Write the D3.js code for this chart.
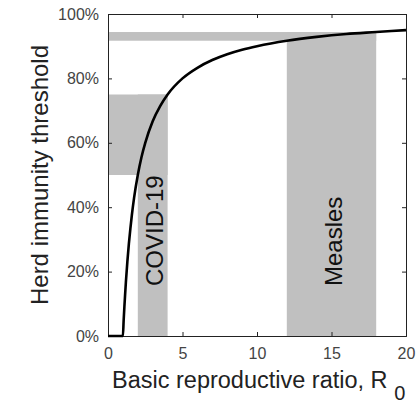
<!DOCTYPE html>
<html><head><meta charset="utf-8">
<script src="https://cdn.jsdelivr.net/npm/d3@7"></script>
<style>
html,body{margin:0;padding:0;background:#fff;}
svg{display:block;font-family:"Liberation Sans",Arial,sans-serif;}
</style></head>
<body><svg id="c" width="417" height="403"></svg>
<script>
// Curve: herd immunity threshold vs R0
const r0Values = [0, 1, 1.05, 1.1, 1.15, 1.2, 1.3, 1.4, 1.5, 1.6, 1.75, 2, 2.25, 2.5, 3, 3.5, 4, 5, 6, 7, 8, 9, 10, 12, 14, 16, 18, 20];
const thresholdValues = [0, 0, 0.048, 0.091, 0.130, 0.167, 0.231, 0.286, 0.333, 0.375, 0.429, 0.500, 0.556, 0.600, 0.667, 0.714, 0.750, 0.800, 0.833, 0.857, 0.875, 0.889, 0.900, 0.917, 0.929, 0.938, 0.944, 0.950];
// Shaded ranges
const diseases = ["COVID-19", "Measles"];
const r0Low = [2, 12];
const r0High = [4, 18];
const hitLow = [0.50, 0.917];
const hitHigh = [0.75, 0.944];
// Ticks
const xTicks = [0, 5, 10, 15, 20];
const yTicks = [0, 0.2, 0.4, 0.6, 0.8, 1.0];

const svg = d3.select("#c");
const L = 108, R = 406, T = 14, B = 336;
const x = d3.scaleLinear().domain([0, 20]).range([L, R]);
const y = d3.scaleLinear().domain([0, 1]).range([B, T]);
const gray = "#c0c0c0";

// bands
diseases.forEach((d, i) => {
  svg.append("rect").attr("x", x(0)).attr("y", y(hitHigh[i]))
    .attr("width", x(r0High[i]) - x(0)).attr("height", y(hitLow[i]) - y(hitHigh[i]))
    .attr("fill", gray);
  svg.append("rect").attr("x", x(r0Low[i])).attr("y", y(hitHigh[i]))
    .attr("width", x(r0High[i]) - x(r0Low[i])).attr("height", y(0) - y(hitHigh[i]))
    .attr("fill", gray);
});

// axes (box with inward ticks)
const tickLen = 4;
const axisColor = "#222";
const xb = svg.append("g").attr("transform", `translate(0,${B})`)
  .call(d3.axisBottom(x).tickValues(xTicks).tickSize(-tickLen).tickPadding(12).tickFormat(d3.format("d")));
const xt = svg.append("g").attr("transform", `translate(0,${T})`)
  .call(d3.axisTop(x).tickValues(xTicks).tickSize(-tickLen).tickFormat(""));
const yl = svg.append("g").attr("transform", `translate(${L},0)`)
  .call(d3.axisLeft(y).tickValues(yTicks).tickSize(-tickLen).tickPadding(9).tickFormat(d3.format(".0%")));
const yr = svg.append("g").attr("transform", `translate(${R},0)`)
  .call(d3.axisRight(y).tickValues(yTicks).tickSize(-tickLen).tickFormat(""));
[xb, xt, yl, yr].forEach(g => {
  g.select(".domain").attr("stroke", axisColor).attr("stroke-width", 1);
  g.selectAll(".tick line").attr("stroke", axisColor);
  g.selectAll("text").attr("fill", "#444").style("font-size", "16px").style("font-family", "Liberation Sans, Arial, sans-serif");
});

// curve
const line = d3.line().x((d, i) => x(r0Values[i])).y((d, i) => y(thresholdValues[i])).curve(d3.curveMonotoneX);
svg.append("path").datum(thresholdValues).attr("d", line)
  .attr("fill", "none").attr("stroke", "#000").attr("stroke-width", 2.6).attr("stroke-linejoin", "round");

// band labels
diseases.forEach((d, i) => {
  const cx = x((r0Low[i] + r0High[i]) / 2);
  svg.append("text").attr("transform", `translate(${cx + 10},286) rotate(-90)`)
    .attr("text-anchor", "start").style("font-size", "24px").attr("fill", "#111").text(d);
});

// axis titles
svg.append("text").attr("transform", `translate(48,${(T + B) / 2}) rotate(-90)`)
  .attr("text-anchor", "middle").style("font-size", "24px").attr("fill", "#222").text("Herd immunity threshold");
const xt2 = svg.append("text").attr("x", 112).attr("y", 388).attr("text-anchor", "start")
  .style("font-size", "23.5px").attr("fill", "#222");
xt2.append("tspan").text("Basic reproductive ratio, R ");
xt2.append("tspan").attr("dy", 12).style("font-size", "20px").text("0");
</script></body></html>
